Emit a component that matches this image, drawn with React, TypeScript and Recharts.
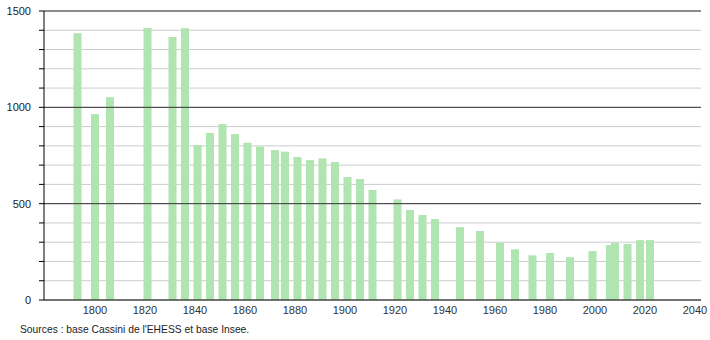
import { BarChart, Bar, XAxis, YAxis, CartesianGrid, ReferenceLine } from "recharts"

const years = [
  1793, 1800, 1806, 1821, 1831, 1836, 1841, 1846, 1851, 1856, 1861, 1866, 1872, 1876, 1881,
  1886, 1891, 1896, 1901, 1906, 1911, 1921, 1926, 1931, 1936, 1946, 1954, 1962, 1968, 1975,
  1982, 1990, 1999, 2006, 2008, 2013, 2018, 2022,
]
const population = [
  1385, 965, 1053, 1412, 1365, 1411, 804, 867, 913, 861, 816, 796, 778, 770, 742,
  726, 735, 716, 638, 628, 571, 522, 467, 441, 420, 378, 358, 297, 263, 232,
  244, 222, 254, 285, 297, 291, 311, 311,
]
const xTicks = [1800, 1820, 1840, 1860, 1880, 1900, 1920, 1940, 1960, 1980, 2000, 2020, 2040]
const yTicks = [0, 100, 200, 300, 400, 500, 600, 700, 800, 900, 1000, 1100, 1200, 1300, 1400, 1500]
const majorLines = [500, 1000, 1500]

const data = years.map((year, i) => ({ year, pop: population[i] }))

const font = "'Liberation Sans', Arial, sans-serif"

// census gaps are narrower than the bars, so draw each bar centred with a fixed width
function CensusBar(props: any) {
  const { x, y, width, height } = props
  const w = 8
  return <rect x={x + width / 2 - w / 2} y={y} width={w} height={height} fill="#b0e4b0" />
}

export default function App() {
  return (
    <div style={{ position: "absolute", left: 0, top: 0, width: 710, height: 340, background: "#fff", fontFamily: font }}>
      <BarChart width={710} height={320} data={data} margin={{ top: 11, right: 9, left: 0, bottom: 0 }}>
        <CartesianGrid vertical={false} stroke="#cccccc" />
        <XAxis
          dataKey="year"
          type="number"
          domain={[1779.6, 2042.4]}
          ticks={xTicks}
          tickLine={false}
          tickMargin={0}
          height={20}
          axisLine={{ stroke: "#000" }}
          tick={{ fontSize: 11, fill: "#333", fontFamily: font }}
        />
        <YAxis
          type="number"
          domain={[0, 1500]}
          ticks={yTicks}
          width={44}
          tickSize={5}
          tickMargin={8}
          interval={0}
          axisLine={{ stroke: "#000" }}
          tickLine={{ stroke: "#000" }}
          tickFormatter={(v: number) => (v % 500 === 0 ? String(v) : "")}
          tick={{ fontSize: 11, fill: "#222", fontFamily: font }}
        />
        {majorLines.map((v) => (
          <ReferenceLine key={v} y={v} stroke="#333" />
        ))}
        <Bar dataKey="pop" isAnimationActive={false} shape={CensusBar} />
      </BarChart>
      <div style={{ position: "absolute", left: 20, top: 324, fontSize: 10.3, color: "#222", fontFamily: font }}>
        Sources : base Cassini de l'EHESS et base Insee.
      </div>
    </div>
  )
}
